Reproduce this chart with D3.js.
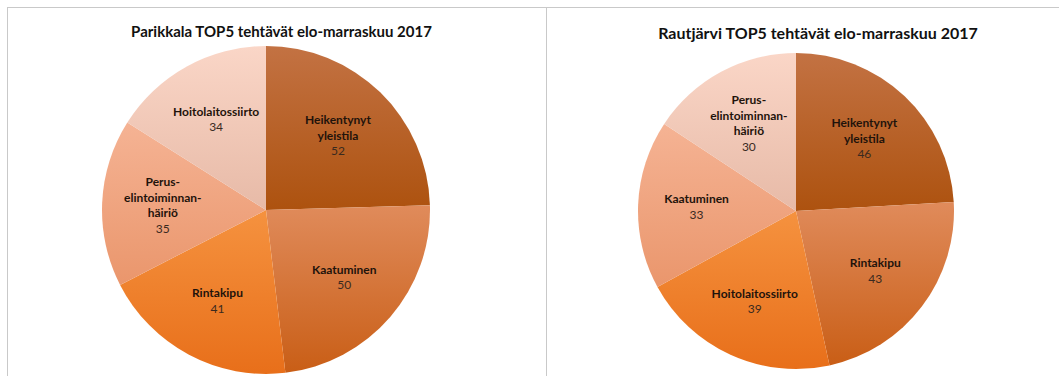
<!DOCTYPE html>
<html>
<head>
<meta charset="utf-8">
<script src="https://cdn.jsdelivr.net/npm/d3@7"></script>
<style>
  html, body { margin: 0; padding: 0; background: #fff; }
  svg { display: block; }
  text { font-family: Lato, "Open Sans", sans-serif; }
</style>
</head>
<body>
<svg id="chart" width="1059" height="376"></svg>
<script>
// Two pie charts: top-5 call types per municipality, Aug–Nov 2017
const parikkalaTitle = "Parikkala TOP5 tehtävät elo-marraskuu 2017";
const parikkalaCategories = ["Heikentynyt\nyleistila", "Kaatuminen", "Rintakipu", "Perus-\nelintoiminnan-\nhäiriö", "Hoitolaitossiirto"];
const parikkalaValues = [52, 50, 41, 35, 34];

const rautjarviTitle = "Rautjärvi TOP5 tehtävät elo-marraskuu 2017";
const rautjarviCategories = ["Heikentynyt\nyleistila", "Rintakipu", "Hoitolaitossiirto", "Kaatuminen", "Perus-\nelintoiminnan-\nhäiriö"];
const rautjarviValues = [46, 43, 39, 33, 30];

// slice fills by position: [top, bottom] of a vertical gradient
const sliceGradients = [
  ["#c37243", "#ad520f"],
  ["#e08b5b", "#c95e16"],
  ["#f5923f", "#e86f1a"],
  ["#f5b394", "#ea966c"],
  ["#fad6c7", "#e7baa7"]
];

const svg = d3.select("#chart");

// panel frame lines
const frame = svg.append("g").attr("stroke", "#c9c9c9").attr("stroke-width", 1).attr("fill", "none");
frame.append("line").attr("x1", 7).attr("x2", 1059).attr("y1", 7.5).attr("y2", 7.5);
frame.append("line").attr("x1", 7.5).attr("x2", 7.5).attr("y1", 7).attr("y2", 376);
frame.append("line").attr("x1", 546.5).attr("x2", 546.5).attr("y1", 7).attr("y2", 376);

const defs = svg.append("defs");
sliceGradients.forEach((g, i) => {
  const lg = defs.append("linearGradient")
    .attr("id", "slice-grad-" + i)
    .attr("x1", 0).attr("y1", 0).attr("x2", 0).attr("y2", 1);
  lg.append("stop").attr("offset", "0%").attr("stop-color", g[0]);
  lg.append("stop").attr("offset", "100%").attr("stop-color", g[1]);
});

function drawPie(opts) {
  const g = svg.append("g");

  g.append("text")
    .attr("x", opts.titleX)
    .attr("y", opts.titleY)
    .attr("text-anchor", "middle")
    .attr("font-weight", "bold")
    .attr("font-size", opts.titleSize)
    .attr("fill", "#111")
    .text(opts.title);

  const data = opts.categories.map((c, i) => ({ label: c, value: opts.values[i], idx: i }));
  const pie = d3.pie().sort(null).value(d => d.value);
  const arcs = pie(data);

  const arc = d3.arc().innerRadius(0).outerRadius(opts.r);
  const labelArc = d3.arc().innerRadius(opts.r * 0.63).outerRadius(opts.r * 0.63);

  const body = g.append("g").attr("transform", `translate(${opts.cx},${opts.cy})`);

  body.selectAll("path.slice")
    .data(arcs)
    .join("path")
    .attr("class", "slice")
    .attr("d", arc)
    .attr("fill", d => `url(#slice-grad-${d.data.idx})`);

  const lh = 15.5;
  const labels = body.selectAll("g.label")
    .data(arcs)
    .join("g")
    .attr("class", "label")
    .attr("transform", d => {
      const [x, y] = labelArc.centroid(d);
      return `translate(${x},${y})`;
    });

  labels.each(function (d) {
    const lines = d.data.label.split("\n").concat([String(d.data.value)]);
    const n = lines.length;
    const t = d3.select(this).append("text")
      .attr("text-anchor", "middle")
      .attr("font-size", 12);
    lines.forEach((ln, i) => {
      const isValue = i === n - 1;
      t.append("tspan")
        .attr("x", 0)
        .attr("y", (i - (n - 1) / 2) * lh + 4)
        .attr("font-weight", isValue ? "normal" : "bold")
        .attr("fill", isValue ? "#3a2a1f" : "#1f130b")
        .text(ln);
    });
  });
}

drawPie({
  title: parikkalaTitle, categories: parikkalaCategories, values: parikkalaValues,
  cx: 266, cy: 210, r: 164, titleX: 281.5, titleY: 37, titleSize: 15
});

drawPie({
  title: rautjarviTitle, categories: rautjarviCategories, values: rautjarviValues,
  cx: 796, cy: 211, r: 158, titleX: 818, titleY: 39, titleSize: 16
});
</script>
</body>
</html>
